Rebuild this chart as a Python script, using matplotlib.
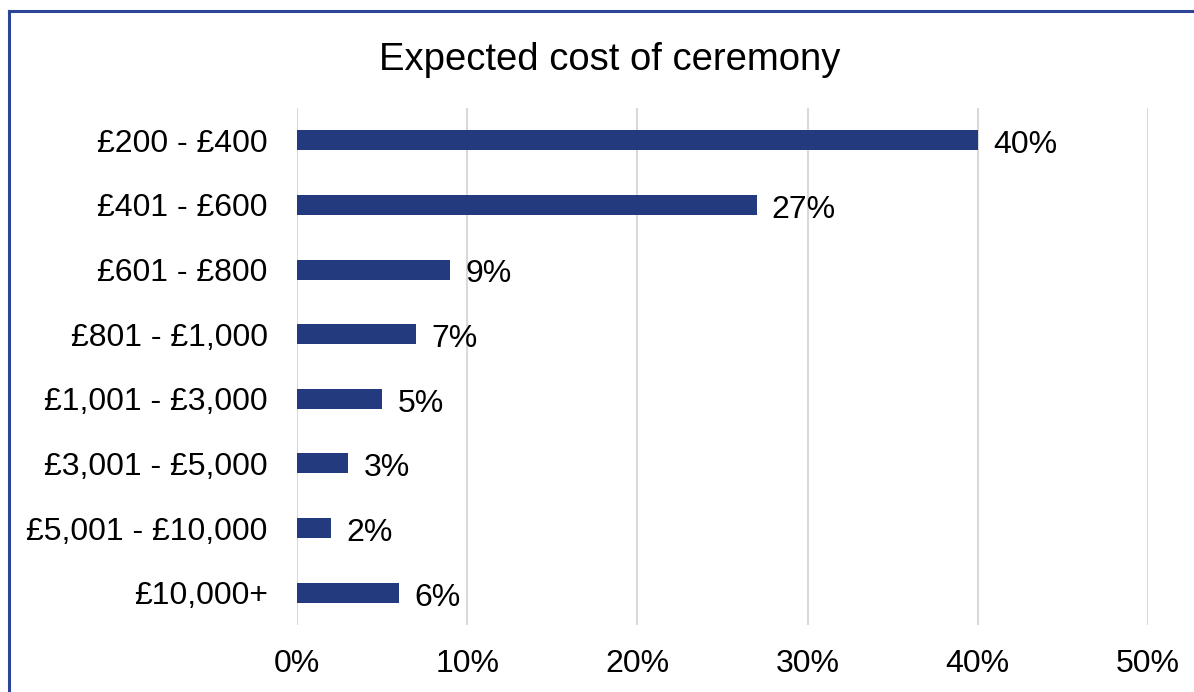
import matplotlib
matplotlib.use("Agg")
import matplotlib.pyplot as plt
from matplotlib.lines import Line2D

plt.rcParams['font.family'] = ['Liberation Sans', 'DejaVu Sans']

categories = ["£200 - £400", "£401 - £600", "£601 - £800", "£801 - £1,000",
              "£1,001 - £3,000", "£3,001 - £5,000", "£5,001 - £10,000", "£10,000+"]
shares = [40, 27, 9, 7, 5, 3, 2, 6]
x_ticks = [0, 10, 20, 30, 40, 50]
x_tick_labels = ["0%", "10%", "20%", "30%", "40%", "50%"]
title = "Expected cost of ceremony"

W, H = 1194, 692
fig = plt.figure(figsize=(W / 100, H / 100), dpi=100)
fig.patch.set_facecolor("white")

ax = fig.add_axes([297 / W, 1 - 625 / H, (1148 - 297) / W, (625 - 108) / H])

bar_color = "#243A7F"
ypos = list(range(len(categories)))
ax.barh(ypos, shares, height=0.31, color=bar_color, zorder=3)
ax.set_ylim(len(categories) - 0.5, -0.5)
ax.set_xlim(0, 50)

for y, v in zip(ypos, shares):
    ax.annotate(f"{v}%", xy=(v, y), xytext=(11, -3.5), textcoords="offset points",
                va="center", ha="left", fontsize=23, color="black")

ax.set_yticks(ypos)
ax.set_yticklabels(categories, fontsize=23)
ax.set_xticks(x_ticks)
ax.set_xticklabels(x_tick_labels, fontsize=23)
ax.tick_params(axis="both", length=0)
ax.tick_params(axis="y", pad=21)
ax.tick_params(axis="x", pad=17)

ax.grid(axis="x", color="#D9D9D9", linewidth=1.5, zorder=0)
ax.grid(axis="y", visible=False)
for s in ax.spines.values():
    s.set_visible(False)

fig.text(610 / W, 1 - 60 / H, title, ha="center", va="center", fontsize=27.5)

# outer frame (top and left edges)
border = "#2E4496"
fig.add_artist(Line2D([9 / W, 1], [1 - 11 / H, 1 - 11 / H], color=border, lw=2.2))
fig.add_artist(Line2D([9 / W, 9 / W], [1 - 11 / H, 0], color=border, lw=2.2))

fig.savefig("out.png", dpi=100)
